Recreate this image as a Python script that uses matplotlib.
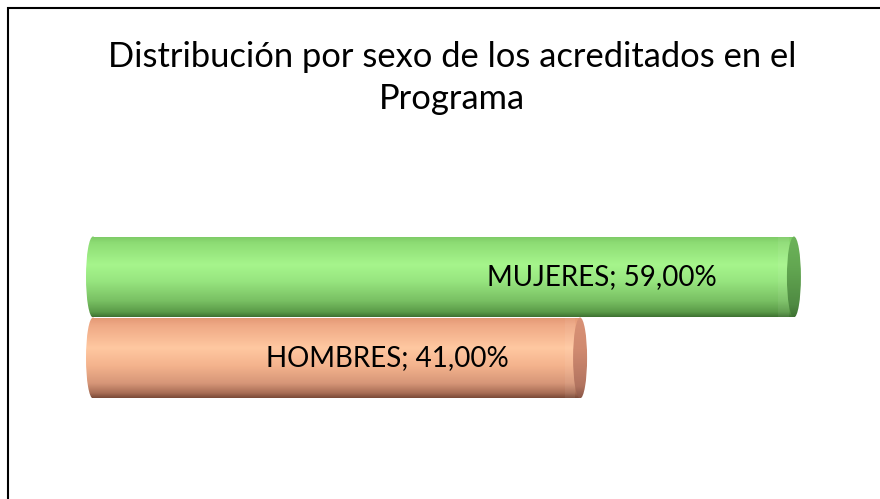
import numpy as np
import matplotlib
matplotlib.use("Agg")
import matplotlib.pyplot as plt
from matplotlib.colors import to_rgb
from matplotlib.patches import Rectangle, Ellipse

# data
categories = ["HOMBRES", "MUJERES"]
values = [41.0, 59.0]
title = "Distribución por sexo de los acreditados en el\nPrograma"

# colour stops (top -> bottom) for the cylinder body and the end cap
body_stops = {
    "HOMBRES": [(0.0, "#e39774"), (0.1, "#efa985"), (0.38, "#ffc8a1"), (0.6, "#f4b38d"),
                (0.82, "#d69678"), (0.94, "#a86d55"), (1.0, "#7a4a38")],
    "MUJERES": [(0.0, "#7cc865"), (0.08, "#8ddc74"), (0.35, "#a6f58c"), (0.55, "#98e680"),
                (0.8, "#79c063"), (0.94, "#5a9a48"), (1.0, "#3e7232")],
}
cap_stops = {
    "HOMBRES": [(0.0, "#d99276"), (0.4, "#d08a70"), (0.85, "#b27460"), (1.0, "#8a5646")],
    "MUJERES": [(0.0, "#6db45a"), (0.4, "#62a651"), (0.85, "#4f8a42"), (1.0, "#3e7232")],
}


def gradient(stops, n=200):
    pos = [p for p, _ in stops]
    cols = np.array([to_rgb(c) for _, c in stops])
    t = np.linspace(0, 1, n)
    rgb = np.stack([np.interp(t, pos, cols[:, k]) for k in range(3)], axis=1)
    return rgb[:, None, :]


fig = plt.figure(figsize=(8.8, 4.99), dpi=100)
ax = fig.add_axes([0, 0, 1, 1])
ax.set_axis_off()

# pixel mapping: x px = 93 + 11.88*x ; y px (from top) = 358 - 81*y
px_per_unit_x = 11.88
px_per_unit_y = 81.0
xlim = (-93 / px_per_unit_x, (880 - 93) / px_per_unit_x)
ylim = ((358 - 499) / px_per_unit_y, 358 / px_per_unit_y)

h = 1.0
cap_w = 14 / px_per_unit_x

for i, (cat, v) in enumerate(zip(categories, values)):
    y0, y1 = i - h / 2, i + h / 2
    g = gradient(body_stops[cat])
    zb = 2 + i * 3
    # body rectangle
    rect = Rectangle((0, y0), v, h, facecolor="none", edgecolor="none")
    ax.add_patch(rect)
    im = ax.imshow(g, extent=(-cap_w, v, y0, y1), aspect="auto", origin="upper",
                   interpolation="bilinear", zorder=zb)
    im.set_clip_path(rect)
    # rounded back end
    el = Ellipse((0, i), cap_w, h, facecolor="none", edgecolor="none")
    ax.add_patch(el)
    im = ax.imshow(g, extent=(-cap_w, v, y0, y1), aspect="auto", origin="upper",
                   interpolation="bilinear", zorder=zb)
    im.set_clip_path(el)
    # soft highlight just before the front cap
    hl = Rectangle((v - 1.3, y0), 0.9, h, facecolor="white", edgecolor="none",
                   alpha=0.06, zorder=zb + 0.5)
    ax.add_patch(hl)
    # front end cap
    cap = Ellipse((v, i), cap_w, h, facecolor="none", edgecolor="none")
    ax.add_patch(cap)
    im = ax.imshow(gradient(cap_stops[cat]), extent=(v - cap_w, v + cap_w, y0, y1),
                   aspect="auto", origin="upper", interpolation="bilinear", zorder=zb + 1)
    im.set_clip_path(cap)

    ax.text(v - 16.2, i, f"{cat}; {v:.2f}%".replace(".", ","), ha="center", va="center",
            fontsize=20, family="Lato", color="black", zorder=20)

ax.set_xlim(*xlim)
ax.set_ylim(*ylim)

# chart border
fig.patches.append(Rectangle((8 / 880, -0.1), 1.2, (499 - 8) / 499 + 0.1,
                             transform=fig.transFigure, facecolor="none",
                             edgecolor="black", linewidth=1.5))

fig.text(452 / 880, 1 - 78 / 499, title, ha="center", va="center", fontsize=24.8,
         family="Lato", linespacing=1.42)

fig.savefig("out.png", dpi=100, facecolor="white")
